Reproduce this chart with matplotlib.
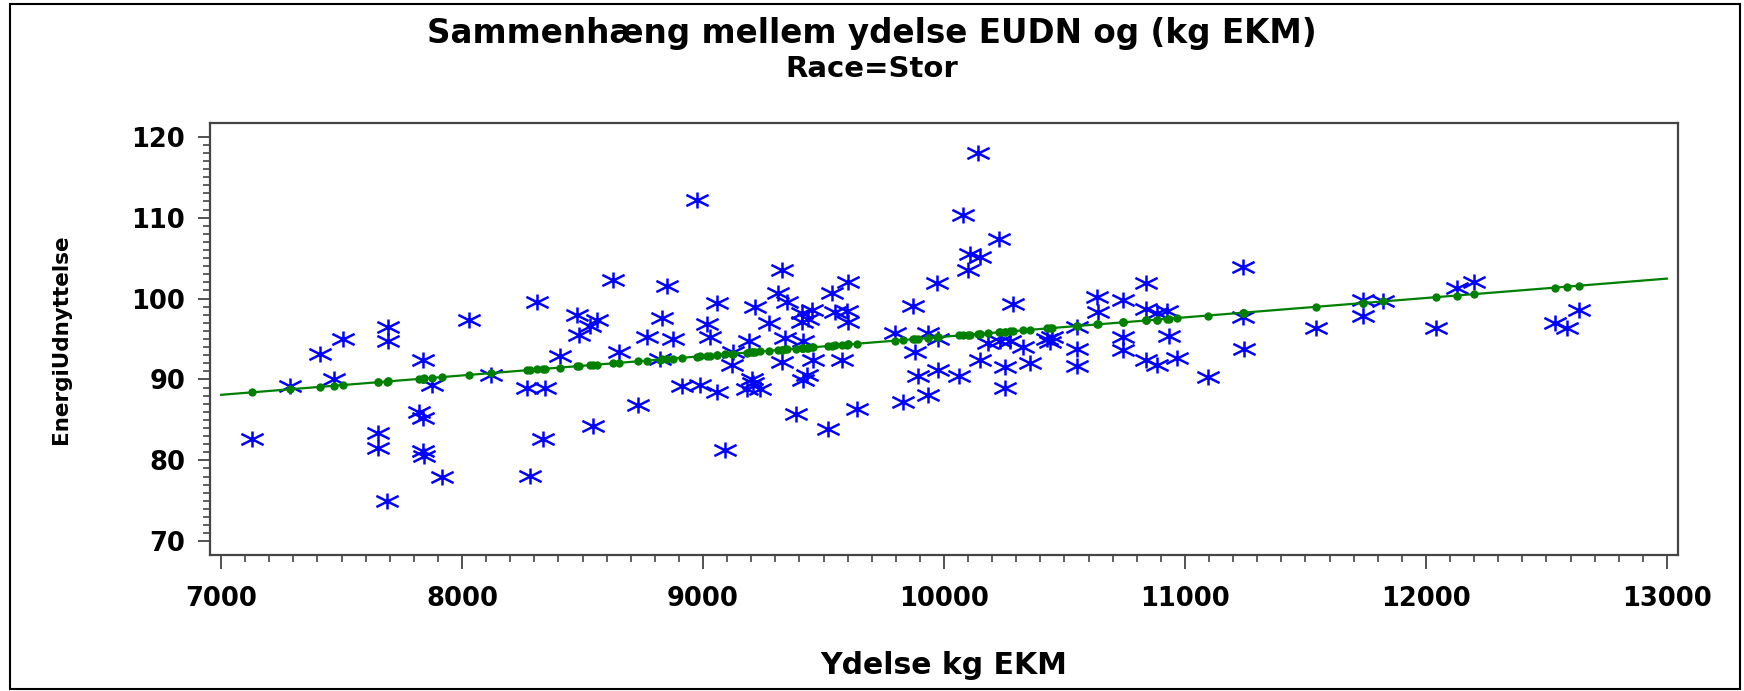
import numpy as np
import matplotlib
matplotlib.use("Agg")
from matplotlib import pyplot as plt
from matplotlib.path import Path
from matplotlib.patches import Rectangle

# Ydelse kg EKM (x) and EnergiUdnyttelse (y)
ydelse = [
    7127, 7286, 7411, 7505, 7469, 7694, 7694, 7653, 7653, 7687,
    7837, 7874, 7823, 7837, 7837, 7844, 7916, 8030, 8119, 8310,
    8268, 8344, 8335, 8282, 8407, 8478, 8487, 8530, 8560, 8545,
    8628, 8653, 8732, 8849, 8976, 8829, 8766, 8874, 8822, 8911,
    8988, 9057, 9057, 9015, 9029, 9091, 9119, 9126, 9192, 9216,
    9202, 9181, 9237, 9209, 9275, 9327, 9312, 9347, 9340, 9327,
    9386, 9416, 9410, 9451, 9410, 9437, 9430, 9416, 9458, 9520,
    9534, 9603, 9548, 9596, 9603, 9575, 9638, 9797, 9870, 9880,
    9893, 9831, 9935, 9935, 9976, 9972, 9976, 10063, 10078, 10142,
    10229, 10108, 10149, 10101, 10149, 10253, 10253, 10288, 10184, 10232,
    10274, 10329, 10357, 10426, 10450, 10440, 10551, 10551, 10551, 10634,
    10640, 10744, 10741, 10741, 10838, 10838, 10924, 10883, 10935, 10838,
    10883, 10966, 11094, 11239, 11239, 11245, 11544, 11740, 11740, 11823,
    12041, 12127, 12199, 12535, 12584, 12636,
]
energi = [
    82.6, 89.2, 93.1, 95.0, 90.0, 96.5, 94.7, 83.4, 81.5, 75.0,
    92.4, 89.3, 86.0, 85.2, 81.1, 80.5, 78.0, 97.4, 90.5, 99.6,
    89.0, 88.9, 82.6, 78.1, 92.9, 98.0, 95.5, 96.6, 97.4, 84.2,
    102.3, 93.4, 86.8, 101.6, 112.2, 97.6, 95.3, 95.0, 92.5, 89.2,
    89.3, 88.5, 99.5, 96.9, 95.2, 81.3, 91.8, 93.4, 94.7, 99.0,
    90.0, 88.8, 88.8, 89.5, 97.0, 103.5, 100.7, 99.6, 95.1, 92.1,
    85.7, 94.7, 98.2, 98.6, 97.1, 97.5, 90.5, 89.9, 92.4, 83.9,
    100.7, 102.1, 98.3, 98.4, 97.1, 92.4, 86.3, 95.7, 99.1, 93.4,
    90.4, 87.2, 88.1, 95.8, 91.2, 101.9, 95.0, 90.4, 110.3, 118.0,
    107.3, 105.5, 105.1, 103.5, 92.4, 91.6, 88.9, 99.3, 94.5, 94.7,
    94.7, 94.0, 92.0, 95.0, 95.3, 94.6, 96.5, 93.8, 91.7, 100.2,
    98.3, 99.8, 95.2, 93.6, 101.9, 98.7, 98.4, 98.2, 95.4, 92.4,
    91.8, 92.7, 90.3, 103.9, 97.7, 93.8, 96.4, 99.8, 97.8, 99.7,
    96.4, 101.3, 102.1, 97.0, 96.4, 98.6,
]

x_ticks = [7000, 8000, 9000, 10000, 11000, 12000, 13000]
y_ticks = [70, 80, 90, 100, 110, 120]

title = "Sammenhæng mellem ydelse EUDN og (kg EKM)"
subtitle = "Race=Stor"

x = np.array(ydelse, dtype=float)
y = np.array(energi, dtype=float)

# linear regression, like SAS i=rl
slope, intercept = np.polyfit(x, y, 1)
line_x = np.array([x_ticks[0], x_ticks[-1]], dtype=float)

W, H = 1744, 691
fig = plt.figure(figsize=(W / 100, H / 100), dpi=100)
fig.patch.set_facecolor("white")

# outer frame round the whole graph
fig.patches.append(Rectangle((10 / W, 2 / H), 1730 / W, 685 / H,
                             transform=fig.transFigure, fill=False,
                             edgecolor="black", linewidth=1.5))

ax = fig.add_axes([210 / W, (H - 555) / H, 1468 / W, 432 / H])

star = Path([(0, -0.72), (0, 0.72), (-1, -0.5), (1, 0.5), (-1, 0.5), (1, -0.5)],
            [Path.MOVETO, Path.LINETO] * 3)

ax.plot(x, y, linestyle="none", marker=star, markersize=16,
        markeredgecolor="#0000ff", markeredgewidth=1.8, markerfacecolor="none")
ax.plot(line_x, intercept + slope * line_x, color="#008000", linewidth=1.6)
ax.plot(x, intercept + slope * x, linestyle="none", marker="o",
        markersize=5, color="#008000")

ax.set_xlim(6954, 13046)
ax.set_ylim(68.3, 121.7)
ax.set_xticks(x_ticks)
ax.set_yticks(y_ticks)
ax.set_xticks(np.arange(7000, 13001, 100), minor=True)
ax.set_yticks(np.arange(70, 121, 1), minor=True)

for s in ax.spines.values():
    s.set_color("#444444")
    s.set_linewidth(1.6)

ax.tick_params(axis="x", which="major", direction="out", length=10, width=1.3,
               pad=12, labelsize=18.5, color="#444444")
ax.tick_params(axis="x", which="minor", direction="out", length=5, width=1.2,
               color="#444444")
ax.tick_params(axis="y", which="major", direction="out", length=9, width=1.3,
               pad=9, labelsize=18.5, color="#444444")
ax.tick_params(axis="y", which="minor", direction="out", length=5, width=1.2,
               color="#444444")
for lab in ax.get_xticklabels() + ax.get_yticklabels():
    lab.set_fontweight("bold")

ax.set_xlabel("Ydelse kg EKM", fontsize=21.5, fontweight="bold")
ax.xaxis.label.set_va("center")
ax.xaxis.set_label_coords(0.5, (555 - 665) / 432)
ax.set_ylabel("EnergiUdnyttelse", fontsize=15.5, fontweight="bold")
ax.yaxis.label.set_va("center")
ax.yaxis.set_label_coords((61 - 210) / 1468, 0.5)

fig.text(872 / W, 1 - 33 / H, title, ha="center", va="center",
         fontsize=23.5, fontweight="bold")
fig.text(872 / W, 1 - 69 / H, subtitle, ha="center", va="center",
         fontsize=21, fontweight="bold")

fig.savefig("out.png", dpi=100)
